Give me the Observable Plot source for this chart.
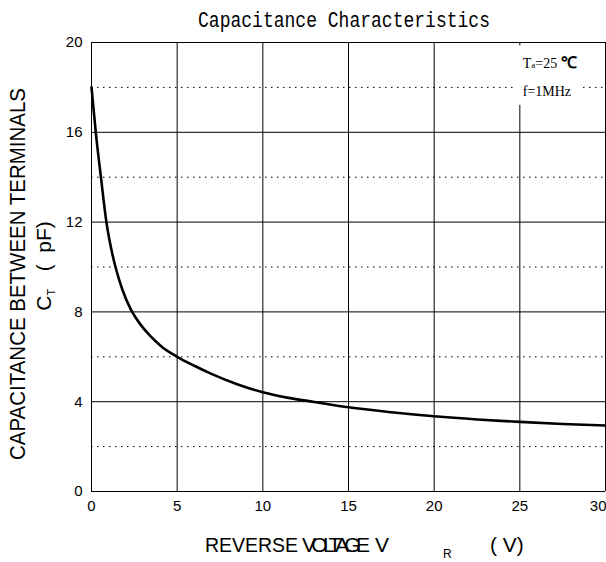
<!DOCTYPE html>
<html><head><meta charset="utf-8">
<script src="https://cdn.jsdelivr.net/npm/d3@7"></script>
<script src="https://cdn.jsdelivr.net/npm/@observablehq/plot@0.6"></script>
<style>body{margin:0;background:#fff}</style>
</head><body><div id="chart"></div>
<script>
// Data
const voltage =     [0, 0.25, 0.55, 0.87, 1.1, 1.4, 1.8, 2.3, 2.8, 3.4, 4.1, 5.0, 6.0, 7.0, 8.5, 10, 11.5, 13, 15, 17.5, 20, 22.5, 25, 27.5, 30];
const capacitance = [18, 16, 14, 12, 11, 10, 9, 8.1, 7.5, 6.95, 6.45, 6.0, 5.6, 5.24, 4.78, 4.42, 4.17, 3.99, 3.75, 3.53, 3.35, 3.21, 3.1, 3.01, 2.94];
const xTicks = [0, 5, 10, 15, 20, 25, 30];
const yMajor = [0, 4, 8, 12, 16, 20];
const yMinor = [2, 6, 10, 14, 18];
const titleText = "Capacitance Characteristics";
const noteTemp = ["T", "a", "=25 ", "℃"];
const noteFreq = "f=1MHz";

const data = voltage.map((v, i) => ({v, c: capacitance[i]}));
const noteBox = {x1: 24.85, x2: 28.5, y1: 17.2, y2: 19.85};
const sans = "Liberation Sans, Arial, sans-serif";
const serif = "Liberation Serif, Times New Roman, serif";

const plot = Plot.plot({
  width: 606, height: 562,
  marginTop: 42, marginBottom: 71, marginLeft: 91, marginRight: 1,
  x: {domain: [0, 30], axis: null},
  y: {domain: [0, 20], axis: null},
  style: {background: "#fff", overflow: "visible"},
  marks: [
    Plot.ruleY(yMinor, {stroke: "#000", strokeWidth: 1, strokeDasharray: "1.5,4.5"}),
    Plot.ruleY(yMajor, {stroke: "#000", strokeWidth: 1}),
    Plot.ruleX(xTicks, {stroke: "#000", strokeWidth: 1}),
    Plot.rect([noteBox], {x1: "x1", x2: "x2", y1: "y1", y2: "y2", fill: "#fff"}),
    Plot.line(data, {x: "v", y: "c", curve: "monotone-x", stroke: "#000", strokeWidth: 2.6}),
    Plot.text(yMajor, {x: 0, y: d => d, text: d => String(d), dx: -9, textAnchor: "end", fontSize: 15, fontFamily: sans, fill: "#000"}),
    Plot.text(xTicks.slice(0, -1), {x: d => d, y: 0, text: d => String(d), dy: 15, fontSize: 15, fontFamily: sans, fill: "#000"}),
    Plot.text(xTicks.slice(-1), {x: d => d, y: 0, text: d => String(d), dy: 15, dx: 1, textAnchor: "end", fontSize: 15, fontFamily: sans, fill: "#000"})
  ]
});
document.getElementById("chart").appendChild(plot);

const svg = d3.select(plot);
const sx = plot.scale("x");
const cx = (sx.apply(0) + sx.apply(30)) / 2 - 4;

// Title
svg.append("text").attr("x", cx).attr("y", 27).attr("text-anchor", "middle")
  .attr("font-family", "Liberation Mono, monospace").attr("font-size", 22)
  .attr("textLength", 292).attr("lengthAdjust", "spacingAndGlyphs")
  .attr("fill", "#000").text(titleText);

// Notes
const nx = sx.apply(25.2);
const t = svg.append("text").attr("x", nx).attr("y", 68).attr("text-anchor", "start")
  .attr("font-family", serif).attr("font-size", 14).attr("fill", "#000");
t.append("tspan").text(noteTemp[0]);
t.append("tspan").attr("font-size", 9).text(noteTemp[1]);
t.append("tspan").text(noteTemp[2]);
t.append("tspan").attr("font-family", sans).attr("font-weight", "bold").attr("font-size", 16).text(noteTemp[3]);
svg.append("text").attr("x", nx).attr("y", 96).attr("text-anchor", "start")
  .attr("font-family", serif).attr("font-size", 14).attr("fill", "#000").text(noteFreq);

// Y axis title
svg.append("text").attr("transform", "translate(25,274) rotate(-90)").attr("text-anchor", "middle")
  .attr("font-family", sans).attr("font-size", 22).attr("fill", "#000")
  .attr("textLength", 372).attr("lengthAdjust", "spacingAndGlyphs")
  .text("CAPACITANCE BETWEEN TERMINALS");
const y2 = svg.append("text").attr("transform", "translate(51,266) rotate(-90)").attr("text-anchor", "middle")
  .attr("font-family", sans).attr("font-size", 21).attr("fill", "#000");
y2.append("tspan").text("C");
y2.append("tspan").attr("font-size", 11).attr("dy", 4).text("T");
y2.append("tspan").attr("dy", -4).text("\u00a0\u00a0\u00a0(\u00a0\u00a0pF)");

// X axis title
const xtitle = (x, y, size, str, len, adj) => {
  const e = svg.append("text").attr("x", x).attr("y", y).attr("text-anchor", "start")
    .attr("font-family", sans).attr("font-size", size).attr("fill", "#000").text(str);
  if (len) e.attr("textLength", len).attr("lengthAdjust", adj);
  return e;
};
xtitle(205, 552, 21, "REVERSE", 93, "spacingAndGlyphs");
xtitle(302, 552, 21, "VOLTAGE", 68, "spacing");
xtitle(375, 552, 21, "V");
xtitle(443, 558, 12, "R");
xtitle(490, 552, 21, "(\u00a0V)");
</script>
</body></html>
